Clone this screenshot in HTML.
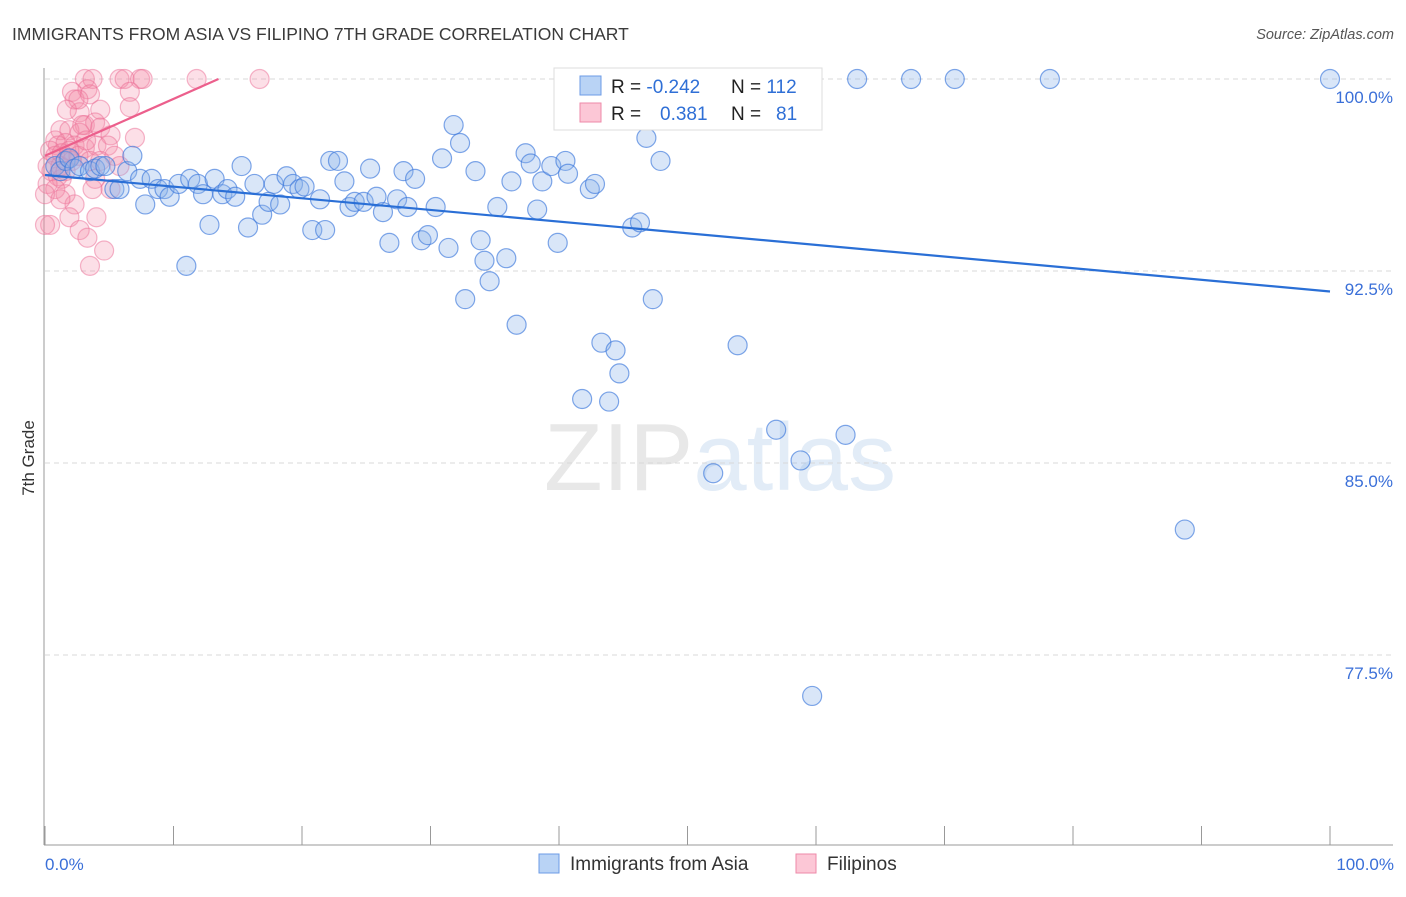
<!DOCTYPE html>
<html><head><meta charset="utf-8"><style>
body{margin:0;background:#fff;font-family:"Liberation Sans",sans-serif;}
svg text{font-family:"Liberation Sans",sans-serif;}
</style></head><body>
<svg id="chart" width="1406" height="892">
<text x="12" y="40" font-size="17.5" fill="#3a3a3a">IMMIGRANTS FROM ASIA VS FILIPINO 7TH GRADE CORRELATION CHART</text>
<text x="1394" y="39" font-size="14.5" fill="#555" font-style="italic" text-anchor="end">Source: ZipAtlas.com</text>
<text x="720" y="490" font-size="96" fill="#e8e8e8" font-family="Liberation Serif" text-anchor="middle">ZIP<tspan fill="#e2ecf7" font-family="Liberation Sans">atlas</tspan></text>
<g id="grid"></g><g id="axes"></g><g id="pink"></g><g id="blue"></g><g id="trends"></g>
<text x="34" y="458" font-size="17" fill="#333" transform="rotate(-90 34 458)" text-anchor="middle">7th Grade</text>
<text x="45" y="870" font-size="17" fill="#3a6fd8">0.0%</text>
<text x="1394" y="870" font-size="17" fill="#3a6fd8" text-anchor="end">100.0%</text>
<g>
<rect x="554" y="68" width="268" height="62" fill="#fff" stroke="#ddd"/>
<rect x="580" y="76" width="21" height="19" fill="#b9d3f5" stroke="#6c9be6"/>
<rect x="580" y="103" width="21" height="19" fill="#fcc7d6" stroke="#ee8aa8"/>
<text x="611" y="93" font-size="19" fill="#222">R = <tspan fill="#2f6fd6">-0.242</tspan></text>
<text x="731" y="93" font-size="19" fill="#222">N = <tspan fill="#2f6fd6">112</tspan></text>
<text x="611" y="120" font-size="19" fill="#222">R = <tspan fill="#2f6fd6" x="660">0.381</tspan></text>
<text x="731" y="120" font-size="19" fill="#222">N = <tspan fill="#2f6fd6" x="776">81</tspan></text>
</g>
<g>
<rect x="539" y="854" width="20" height="19" fill="#b9d3f5" stroke="#6c9be6"/>
<text x="570" y="870" font-size="19" fill="#333">Immigrants from Asia</text>
<rect x="796" y="854" width="20" height="19" fill="#fcc7d6" stroke="#ee8aa8"/>
<text x="827" y="870" font-size="19" fill="#333">Filipinos</text>
</g>
</svg>
<script>
const yTicks=[100,92.5,85,77.5];
const yTickLabels=["100.0%","92.5%","85.0%","77.5%"];
const xTicks=[0,10,20,30,40,50,60,70,80,90,100];
const blueX=[0.8,1.2,1.6,1.9,2.3,2.7,3.5,3.9,4.3,4.7,5.4,5.8,6.4,6.8,7.4,7.8,8.3,8.8,9.3,9.7,10.4,11.0,11.3,11.9,12.3,12.8,13.2,13.8,14.2,14.8,15.3,15.8,16.3,16.9,17.4,17.8,18.3,18.8,19.3,19.8,20.2,20.8,21.4,21.8,22.2,22.8,23.3,23.7,24.1,24.8,25.3,25.8,26.3,26.8,27.4,27.9,28.2,28.8,29.3,29.8,30.4,30.9,31.4,31.8,32.3,32.7,33.5,33.9,34.2,34.6,35.2,35.9,36.3,36.7,37.4,37.8,38.3,38.7,39.4,39.9,40.5,40.7,41.8,42.4,42.8,43.3,43.9,44.4,44.7,45.4,45.7,46.3,46.8,47.3,47.9,52.0,53.0,53.5,53.9,56.9,58.8,59.7,62.3,63.2,67.4,70.8,78.2,88.7,100];
const blueY=[96.6,96.4,96.8,96.9,96.5,96.6,96.4,96.5,96.6,96.6,95.7,95.7,96.4,97.0,96.1,95.1,96.1,95.7,95.7,95.4,95.9,92.7,96.1,95.9,95.5,94.3,96.1,95.5,95.7,95.4,96.6,94.2,95.9,94.7,95.2,95.9,95.1,96.2,95.9,95.7,95.8,94.1,95.3,94.1,96.8,96.8,96.0,95.0,95.2,95.2,96.5,95.4,94.8,93.6,95.3,96.4,95.0,96.1,93.7,93.9,95.0,96.9,93.4,98.2,97.5,91.4,96.4,93.7,92.9,92.1,95.0,93.0,96.0,90.4,97.1,96.7,94.9,96.0,96.6,93.6,96.8,96.3,87.5,95.7,95.9,89.7,87.4,89.4,88.5,100,94.2,94.4,97.7,91.4,96.8,84.6,100,100,89.6,86.3,85.1,75.9,86.1,100,100,100,100,82.4,100];
const pinkX=[3.1,3.7,5.8,6.2,7.4,7.6,11.8,16.7,3.3,2.1,2.3,3.5,6.6,2.7,4.3,6.6,3.1,3.9,1.2,1.9,2.7,4.3,5.1,7.0,0.8,1.0,1.6,2.3,3.1,4.0,4.9,0.4,0.8,1.3,1.8,2.1,2.6,3.5,4.3,5.4,0.2,0.5,1.0,1.3,0.2,0.8,0,1.6,2.3,4.0,1.9,0.4,2.7,3.3,4.6,3.5,5.8,1.2,1.6,1.9,2.9,3.9,5.1,1.2,2.6,1.7,3.2,3.7,0];
const pinkY=[100,100,100,100,100,100,100,100,99.6,99.5,99.2,99.4,99.5,98.7,98.8,98.9,98.2,98.3,98.0,98.0,97.9,98.1,97.8,97.7,97.6,97.4,97.5,97.4,97.3,97.4,97.4,97.2,97.0,97.1,96.9,96.8,97.0,96.8,96.8,97.0,96.6,96.4,96.2,96.1,95.9,95.7,95.5,95.5,95.1,94.6,94.6,94.3,94.1,93.8,93.3,92.7,96.6,96.6,96.4,97.2,98.2,96.1,95.7,95.3,99.2,98.8,97.6,95.7,94.3];
const blueTrend=[96.25,91.7];
const pinkTrend=[97.0,100,13.5];
const NS="http://www.w3.org/2000/svg";
const sx=v=>45+v*12.85;
const sy=v=>79+(100-v)*25.6;
function mk(tag,attrs,parent){const e=document.createElementNS(NS,tag);for(const k in attrs)e.setAttribute(k,attrs[k]);document.getElementById(parent).appendChild(e);return e;}
yTicks.forEach((t,i)=>{
 const l=mk('line',{x1:45,x2:1393,y1:sy(t),y2:sy(t),stroke:'#d8d8d8','stroke-dasharray':'5,4'},'grid');
 
 
 const tx=mk('text',{x:1393,y:sy(t)+24,'font-size':17,fill:'#3a6fd8','text-anchor':'end'},'grid');
 tx.textContent=yTickLabels[i];
 
 
});
const ax=mk('line',{x1:44,x2:44,y1:68,y2:845,stroke:'#999'},'axes');


const bx=mk('line',{x1:44,x2:1393,y1:845,y2:845,stroke:'#999'},'axes');


xTicks.forEach(t=>{
 const l=mk('line',{x1:sx(t),x2:sx(t),y1:826,y2:845,stroke:'#999'},'axes');
 
 
});
pinkX.forEach((x,i)=>{
 const c=mk('circle',{cx:sx(x),cy:sy(pinkY[i]),r:9.5,fill:'rgba(245,140,170,0.28)',stroke:'rgba(235,110,150,0.5)','stroke-width':1.2},'pink');
 
 
});
blueX.forEach((x,i)=>{
 const c=mk('circle',{cx:sx(x),cy:sy(blueY[i]),r:9.5,fill:'rgba(140,180,235,0.33)',stroke:'rgba(60,120,220,0.65)','stroke-width':1.2},'blue');
 
 
});
const bt=mk('line',{x1:sx(0),y1:sy(blueTrend[0]),x2:sx(100),y2:sy(blueTrend[1]),stroke:'#2a6fd6','stroke-width':2.2},'trends');


const pt=mk('line',{x1:sx(0),y1:sy(pinkTrend[0]),x2:sx(pinkTrend[2]),y2:sy(pinkTrend[1]),stroke:'#ec5f8c','stroke-width':2.2},'trends');


</script>
</body></html>
